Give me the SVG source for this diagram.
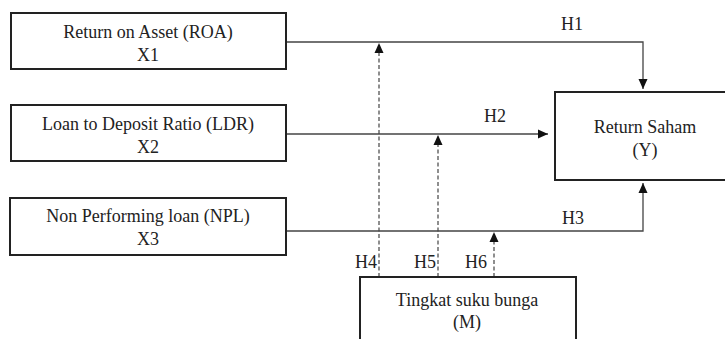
<svg xmlns="http://www.w3.org/2000/svg" width="725" height="339" viewBox="0 0 725 339">
<style>
.box{fill:#fff;stroke:#222;stroke-width:2}
.t{font-family:"Liberation Serif","DejaVu Serif",serif;font-size:18px;fill:#222;text-anchor:middle}
.ln{fill:none;stroke:#444;stroke-width:1.3}
.ds{fill:none;stroke:#444;stroke-width:1.2;stroke-dasharray:4 2.5}
</style>
<defs>
<marker id="ah" viewBox="0 0 10 10" refX="10" refY="5" markerWidth="10" markerHeight="10" markerUnits="userSpaceOnUse" orient="auto">
<path d="M0,0.5 L10,5 L0,9.5 Z" fill="#111"/>
</marker>
</defs>
<rect width="725" height="339" fill="#fff"/>
<g id="connectors">
<path class="ln" d="M286,42 H643 V89" marker-end="url(#ah)"/>
<path class="ln" d="M286,134 H548" marker-end="url(#ah)"/>
<path class="ln" d="M286,231 H643 V183" marker-end="url(#ah)"/>
<path class="ds" d="M379,277 V43" marker-end="url(#ah)"/>
<path class="ds" d="M438,277 V135" marker-end="url(#ah)"/>
<path class="ds" d="M494,277 V232" marker-end="url(#ah)"/>
<text class="t" x="572" y="30">H1</text>
<text class="t" x="495" y="122">H2</text>
<text class="t" x="573" y="224">H3</text>
<text class="t" x="366" y="268">H4</text>
<text class="t" x="425" y="268">H5</text>
<text class="t" x="476" y="268">H6</text>
</g>
<g id="x1">
<rect class="box" x="11" y="13" width="275" height="56"/>
<text class="t" x="148" y="38">Return on Asset (ROA)</text>
<text class="t" x="148" y="61">X1</text>
</g>
<g id="x2">
<rect class="box" x="11" y="105" width="275" height="56"/>
<text class="t" x="148" y="130">Loan to Deposit Ratio (LDR)</text>
<text class="t" x="148" y="153">X2</text>
</g>
<g id="x3">
<rect class="box" x="10" y="198" width="276" height="57"/>
<text class="t" x="148" y="222">Non Performing loan (NPL)</text>
<text class="t" x="148" y="245">X3</text>
</g>
<g id="y">
<rect class="box" x="555" y="92" width="175" height="88"/>
<text class="t" x="645" y="133">Return Saham</text>
<text class="t" x="645" y="156">(Y)</text>
</g>
<g id="m">
<rect class="box" x="360" y="277" width="216" height="70"/>
<text class="t" x="467" y="306">Tingkat suku bunga</text>
<text class="t" x="467" y="328">(M)</text>
</g>
</svg>
